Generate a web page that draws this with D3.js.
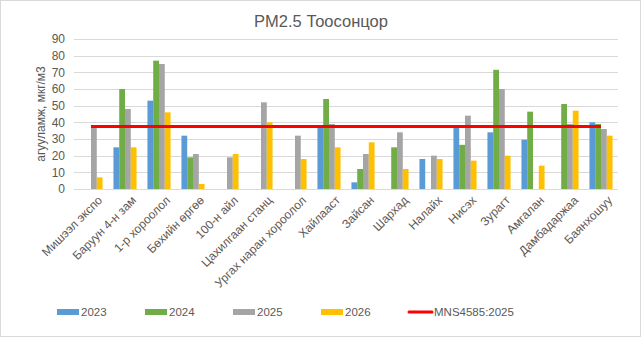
<!DOCTYPE html>
<html>
<head>
<meta charset="utf-8">
<script src="https://cdn.jsdelivr.net/npm/d3@7"></script>
<style>
  html, body { margin: 0; padding: 0; background: #fff; }
  text { font-family: "Liberation Sans", Arial, sans-serif; fill: #595959; }
</style>
</head>
<body>
<svg id="chart" width="642" height="338"></svg>
<script>
const categories = ["Мишээл экспо", "Баруун 4-н зам", "1-р хороолол", "Бөхийн өргөө", "100-н айл",
  "Цахилгаан станц", "Ургах наран хороолол", "Хайлааст", "Зайсан", "Шархад", "Налайх",
  "Нисэх", "Зурагт", "Амгалан", "Дамбадаржаа", "Баянхошуу"];
const seriesNames = ["2023", "2024", "2025", "2026"];
const v2023 = [null, 25, 53, 32, null, null, null, 37, 4, null, 18, 37, 34, 29.6, null, 40];
const v2024 = [null, 60, 77, 19, null, null, null, 54, 12, 25, null, 26.5, 71.5, 46.4, 51, 39];
const v2025 = [38, 48, 75, 21, 19, 52, 32, 39, 21, 34, 20, 44, 60, null, 39, 36];
const v2026 = [7, 25, 46, 3, 21, 40, 18, 25, 28, 12, 18, 17, 20, 14, 47, 32];
const standardName = "MNS4585:2025";
const standardValue = 37.5;
const yTicks = [0, 10, 20, 30, 40, 50, 60, 70, 80, 90];
const titleText = "PM2.5 Тоосонцор";
const yLabel = "агууламж, мкг/м3";
const colors = ["#5B9BD5", "#70AD47", "#A5A5A5", "#FFC000"];

const seriesValues = [v2023, v2024, v2025, v2026];
const svg = d3.select("#chart");

// chart border
svg.append("rect").attr("x", 0.5).attr("y", 0.5).attr("width", 640).attr("height", 336)
  .attr("fill", "#fff").attr("stroke", "#D9D9D9");

const plotL = 74, plotR = 618, plotT = 39, plotB = 189;
const x0 = d3.scaleBand().domain(categories).range([plotL, plotR]).paddingInner(0.32).paddingOuter(0.16);
const x1 = d3.scaleBand().domain(seriesNames).range([0, x0.bandwidth()]);
const y = d3.scaleLinear().domain([0, 90]).range([plotB, plotT]);

// gridlines
svg.append("g").selectAll("line").data(yTicks).join("line")
  .attr("x1", plotL).attr("x2", plotR)
  .attr("y1", d => Math.round(y(d)) + 0.5).attr("y2", d => Math.round(y(d)) + 0.5)
  .attr("stroke", "#D9D9D9").attr("stroke-width", 1);

// y axis labels
const yAxis = d3.axisLeft(y).tickValues(yTicks).tickSize(0).tickPadding(9);
const gy = svg.append("g").attr("transform", `translate(${plotL},0)`).call(yAxis);
gy.select(".domain").remove();
gy.selectAll("text").attr("font-size", 12).style("fill", "#595959")
  .style("font-family", '"Liberation Sans", Arial, sans-serif');

// bars
const rows = categories.map((c, i) => ({ c, vals: seriesValues.map((s, k) => ({ k, v: s[i] })) }));
const groups = svg.append("g").selectAll("g").data(rows).join("g")
  .attr("transform", d => `translate(${x0(d.c)},0)`);
groups.selectAll("rect").data(d => d.vals.filter(e => e.v != null)).join("rect")
  .attr("x", d => x1(seriesNames[d.k]))
  .attr("width", x1.bandwidth())
  .attr("y", d => y(d.v))
  .attr("height", d => y(0) - y(d.v))
  .attr("fill", d => colors[d.k]);

// standard line
svg.append("line")
  .attr("x1", x0(categories[0]) + x0.bandwidth() / 2)
  .attr("x2", x0(categories[categories.length - 1]) + x0.bandwidth() / 2)
  .attr("y1", y(standardValue)).attr("y2", y(standardValue))
  .attr("stroke", "#FF0000").attr("stroke-width", 3.2);

// x axis labels
const xAxis = d3.axisBottom(x0).tickSize(0).tickPadding(0);
const gx = svg.append("g").attr("transform", `translate(0,${plotB})`).call(xAxis);
gx.select(".domain").remove();
gx.selectAll("text")
  .attr("font-size", 12).style("fill", "#595959")
  .style("font-family", '"Liberation Sans", Arial, sans-serif')
  .attr("text-anchor", "end")
  .attr("x", 0).attr("y", 0).attr("dy", "0.7em")
  .attr("transform", "translate(6,6) rotate(-45)");

// title
svg.append("text").attr("x", 321).attr("y", 27).attr("text-anchor", "middle")
  .attr("font-size", 16.5).text(titleText);

// y label
svg.append("text").attr("transform", "translate(45,114) rotate(-90)")
  .attr("text-anchor", "middle").attr("font-size", 12).text(yLabel);

// legend
const legendX = [57, 145, 233, 321];
const ly = 312;
seriesNames.forEach((n, i) => {
  svg.append("rect").attr("x", legendX[i]).attr("y", ly - 3).attr("width", 22).attr("height", 6)
    .attr("fill", colors[i]);
  svg.append("text").attr("x", legendX[i] + 24).attr("y", ly + 4).attr("font-size", 11.5).text(n);
});
svg.append("line").attr("x1", 409).attr("x2", 432).attr("y1", ly).attr("y2", ly)
  .attr("stroke", "#FF0000").attr("stroke-width", 3).attr("stroke-linecap", "round");
svg.append("text").attr("x", 434).attr("y", ly + 4).attr("font-size", 11.5).text(standardName);
</script>
</body>
</html>
